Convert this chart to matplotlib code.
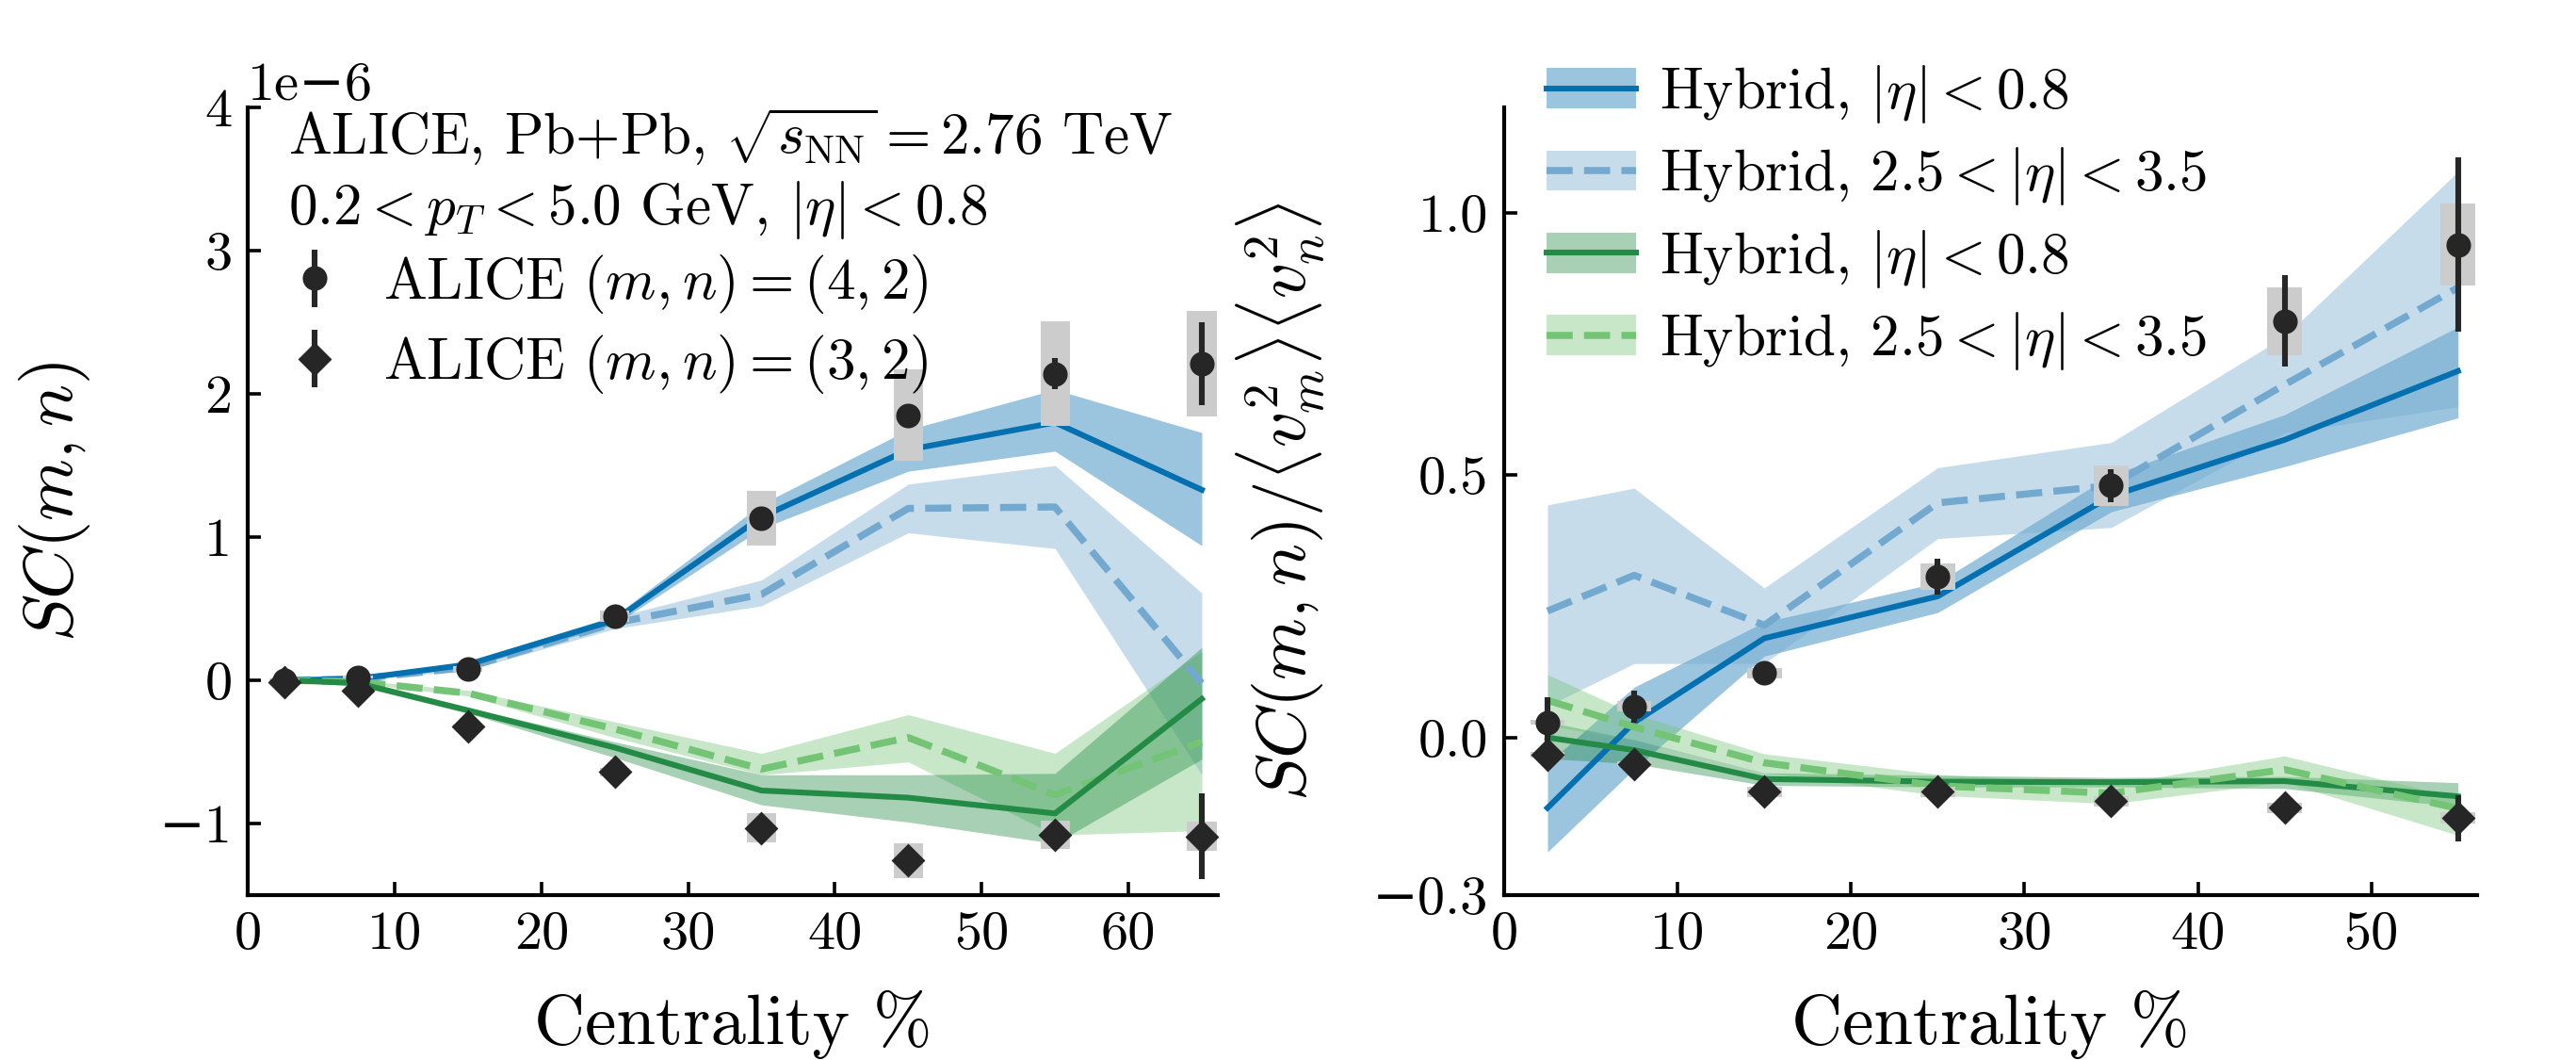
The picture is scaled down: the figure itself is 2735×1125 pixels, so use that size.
import numpy as np
import matplotlib
matplotlib.use('Agg')
import matplotlib.pyplot as plt

plt.rcParams['font.family'] = ['cmr10', 'DejaVu Serif']
plt.rcParams['mathtext.fontset'] = 'cm'
plt.rcParams['axes.unicode_minus'] = True

# colours
blue_dark = '#0570b0'
blue_light = '#74a9cf'
green_dark = '#238b45'
green_light = '#74c476'
ink = '#262626'
box_grey = '#cccccc'

# ---- left panel: SC(m,n), values in units of 1e-6 ----
cent_l = [2.5, 7.5, 15, 25, 35, 45, 55, 65]

hyb42_mid = [0.0, 0.01, 0.11, 0.42, 1.14, 1.61, 1.80, 1.33]
hyb42_lo = [-0.01, 0.0, 0.09, 0.39, 1.06, 1.46, 1.60, 0.94]
hyb42_hi = [0.01, 0.02, 0.13, 0.45, 1.23, 1.75, 2.03, 1.73]

hyb42f_mid = [0.0, 0.01, 0.09, 0.40, 0.60, 1.20, 1.21, -0.02]
hyb42f_lo = [-0.01, 0.0, 0.07, 0.36, 0.52, 1.03, 0.92, -0.66]
hyb42f_hi = [0.01, 0.03, 0.11, 0.44, 0.70, 1.37, 1.50, 0.61]

hyb32_mid = [0.0, -0.02, -0.21, -0.47, -0.77, -0.82, -0.93, -0.13]
hyb32_lo = [-0.01, -0.04, -0.23, -0.54, -0.87, -0.99, -1.14, -0.55]
hyb32_hi = [0.01, -0.01, -0.19, -0.43, -0.66, -0.66, -0.65, 0.23]

hyb32f_mid = [0.0, -0.01, -0.09, -0.34, -0.62, -0.40, -0.80, -0.43]
hyb32f_lo = [-0.01, -0.02, -0.11, -0.40, -0.66, -0.57, -1.08, -1.05]
hyb32f_hi = [0.01, 0.0, -0.07, -0.29, -0.51, -0.24, -0.51, 0.20]

alice42 = [0.0, 0.02, 0.08, 0.45, 1.13, 1.85, 2.14, 2.21]
alice42_stat = [0.01, 0.02, 0.02, 0.03, 0.04, 0.05, 0.11, 0.29]
alice42_sys = [0.01, 0.01, 0.02, 0.04, 0.19, 0.32, 0.365, 0.37]

alice32 = [-0.01, -0.07, -0.32, -0.64, -1.03, -1.26, -1.08, -1.09]
alice32_stat = [0.01, 0.01, 0.02, 0.02, 0.04, 0.05, 0.07, 0.30]
alice32_sys = [0.01, 0.01, 0.01, 0.03, 0.10, 0.12, 0.10, 0.10]

# ---- right panel: normalised SC ----
cent_r = [2.5, 7.5, 15, 25, 35, 45, 55]

nsc42_mid = [-0.134, 0.029, 0.189, 0.269, 0.46, 0.567, 0.698]
nsc42_lo = [-0.218, -0.06, 0.155, 0.238, 0.43, 0.516, 0.609]
nsc42_hi = [-0.05, 0.096, 0.22, 0.295, 0.50, 0.615, 0.782]

nsc42f_mid = [0.241, 0.309, 0.214, 0.447, 0.48, 0.672, 0.857]
nsc42f_lo = [0.06, 0.141, 0.141, 0.379, 0.40, 0.58, 0.63]
nsc42f_hi = [0.443, 0.475, 0.285, 0.514, 0.562, 0.764, 1.078]

nsc32_mid = [0.0, -0.024, -0.079, -0.084, -0.085, -0.083, -0.112]
nsc32_lo = [-0.04, -0.05, -0.091, -0.094, -0.094, -0.097, -0.132]
nsc32_hi = [0.03, -0.004, -0.067, -0.072, -0.076, -0.074, -0.086]

nsc32f_mid = [0.071, 0.02, -0.048, -0.092, -0.106, -0.061, -0.135]
nsc32f_lo = [0.023, -0.005, -0.067, -0.11, -0.126, -0.085, -0.186]
nsc32f_hi = [0.12, 0.045, -0.031, -0.07, -0.09, -0.035, -0.115]

nalice42 = [0.029, 0.059, 0.123, 0.306, 0.480, 0.793, 0.939]
nalice42_stat = [0.047, 0.03, 0.005, 0.034, 0.031, 0.087, 0.166]
nalice42_sys = [0.005, 0.01, 0.01, 0.025, 0.039, 0.065, 0.078]

nalice32 = [-0.033, -0.05, -0.103, -0.103, -0.121, -0.134, -0.153]
nalice32_stat = [0.01, 0.01, 0.005, 0.005, 0.01, 0.01, 0.044]
nalice32_sys = [0.005, 0.005, 0.01, 0.01, 0.01, 0.01, 0.01]


def hybrid(ax, x, mid, lo, hi, color, ls, scale=1.0):
    x = np.array(x)
    band = ax.fill_between(x, np.array(lo) * scale, np.array(hi) * scale,
                           color=color, alpha=0.4, lw=0, zorder=1)
    lw = 2.2 if ls == '-' else 2.7
    line, = ax.plot(x, np.array(mid) * scale, color=color, ls=ls, lw=lw, zorder=2)
    return band, line


def alice(ax, x, y, stat, sys, marker, ms, label, scale=1.0):
    x = np.array(x)
    y = np.array(y) * scale
    sys = np.array(sys) * scale
    ax.bar(x, 2 * sys, bottom=y - sys, width=2.0, color=box_grey, lw=0, zorder=3)
    return ax.errorbar(x, y, yerr=np.array(stat) * scale, fmt=marker, ms=ms,
                       color=ink, elinewidth=2.2, capsize=0, zorder=5, label=label)


def style(ax):
    for s in ['top', 'right']:
        ax.spines[s].set_visible(False)
    for s in ['left', 'bottom']:
        ax.spines[s].set_linewidth(1.5)
    ax.tick_params(direction='in', length=5, width=1.3, labelsize=21, pad=6,
                   top=False, right=False)


fig = plt.figure(figsize=(13.675, 5.625), dpi=200)
ax1 = fig.add_axes([0.0962, 0.1556, 0.3766, 0.743])
ax2 = fig.add_axes([0.5839, 0.1556, 0.3777, 0.743])

# left panel
e6 = 1e-6
hybrid(ax1, cent_l, hyb42f_mid, hyb42f_lo, hyb42f_hi, blue_light, '--', e6)
hybrid(ax1, cent_l, hyb42_mid, hyb42_lo, hyb42_hi, blue_dark, '-', e6)
hybrid(ax1, cent_l, hyb32f_mid, hyb32f_lo, hyb32f_hi, green_light, '--', e6)
hybrid(ax1, cent_l, hyb32_mid, hyb32_lo, hyb32_hi, green_dark, '-', e6)
a42 = alice(ax1, cent_l, alice42, alice42_stat, alice42_sys, 'o', 8.4,
            r'ALICE $(m,n)=(4,2)$', e6)
a32 = alice(ax1, cent_l, alice32, alice32_stat, alice32_sys, 'D', 8.0,
            r'ALICE $(m,n)=(3,2)$', e6)

style(ax1)
ax1.set_xlim(0, 66.1)
ax1.set_ylim(-1.5e-6, 4e-6)
ax1.set_xticks(np.arange(0, 61, 10))
ax1.set_yticks(np.arange(-1, 5) * 1e-6)
ax1.yaxis.get_offset_text().set_fontsize(21)
ax1.set_xlabel('Centrality %', fontsize=27, labelpad=12)
ax1.set_ylabel(r'$SC(m,n)$', fontsize=27)
ax1.yaxis.set_label_coords(-0.16, 0.5)

ax1.text(0.042, 0.941, r'ALICE, Pb+Pb, $\sqrt{s_{\rm NN}}=2.76$ TeV',
         transform=ax1.transAxes, fontsize=22, va='baseline', ha='left')
ax1.text(0.042, 0.852, r'$0.2<p_T<5.0$ GeV, $|\eta|<0.8$',
         transform=ax1.transAxes, fontsize=22, va='baseline', ha='left')
ax1.legend(handles=[a42, a32], loc='center left', bbox_to_anchor=(0.033, 0.725),
           frameon=False, fontsize=22, handlelength=1.2, handletextpad=0.6,
           borderpad=0, borderaxespad=0, labelspacing=0.3)

# right panel
b1 = hybrid(ax2, cent_r, nsc42_mid, nsc42_lo, nsc42_hi, blue_dark, '-')
b2 = hybrid(ax2, cent_r, nsc42f_mid, nsc42f_lo, nsc42f_hi, blue_light, '--')
g1 = hybrid(ax2, cent_r, nsc32_mid, nsc32_lo, nsc32_hi, green_dark, '-')
g2 = hybrid(ax2, cent_r, nsc32f_mid, nsc32f_lo, nsc32f_hi, green_light, '--')
alice(ax2, cent_r, nalice42, nalice42_stat, nalice42_sys, 'o', 8.4, None)
alice(ax2, cent_r, nalice32, nalice32_stat, nalice32_sys, 'D', 8.0, None)

style(ax2)
ax2.set_xlim(0, 56.1)
ax2.set_ylim(-0.3, 1.2)
ax2.set_xticks(np.arange(0, 51, 10))
ax2.set_yticks([-0.3, 0.0, 0.5, 1.0])
ax2.set_xlabel('Centrality %', fontsize=27, labelpad=12)
ax2.set_ylabel(r'$SC(m,n)/\langle v_m^2\rangle\langle v_n^2\rangle$', fontsize=27)
ax2.yaxis.set_label_coords(-0.182, 0.5)

labels_r = [r'Hybrid, $|\eta|<0.8$', r'Hybrid, $2.5<|\eta|<3.5$',
            r'Hybrid, $|\eta|<0.8$', r'Hybrid, $2.5<|\eta|<3.5$']
ax2.legend(handles=[b1, b2, g1, g2], labels=labels_r, loc='center left',
           bbox_to_anchor=(0.0436, 0.860), frameon=False, fontsize=22,
           handlelength=1.55, handleheight=0.7, handletextpad=0.41,
           borderpad=0, borderaxespad=0, labelspacing=0.35)

fig.savefig('out.png', dpi=200)
